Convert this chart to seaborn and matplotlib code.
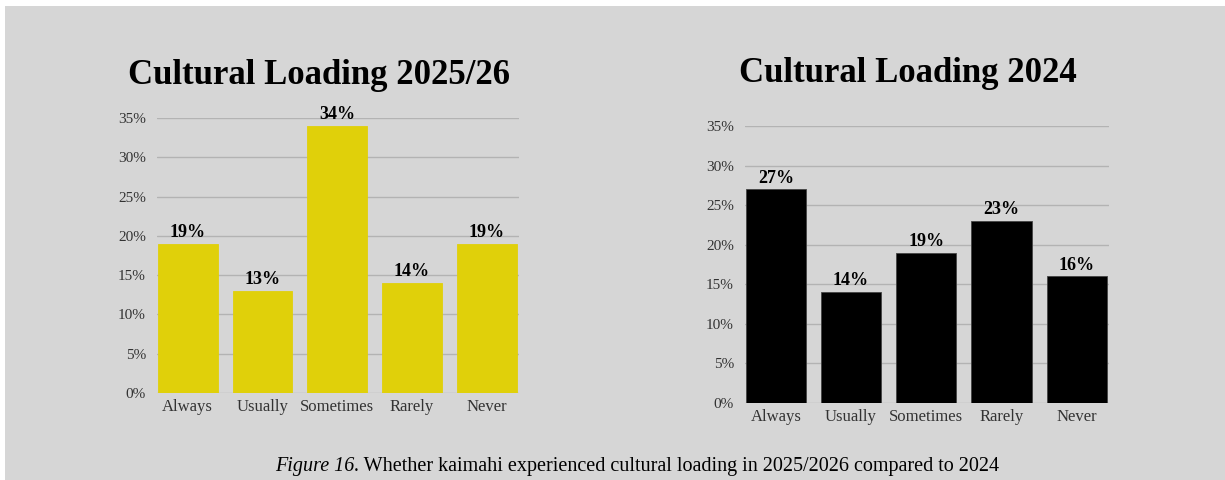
import matplotlib
matplotlib.use("Agg")
import matplotlib.pyplot as plt
import seaborn as sns
import pandas as pd
from matplotlib.patches import Rectangle

categories = ["Always", "Usually", "Sometimes", "Rarely", "Never"]
values_2025 = [19, 13, 34, 14, 19]
values_2024 = [27, 14, 19, 23, 16]
yticks = [0, 5, 10, 15, 20, 25, 30, 35]
title_left = "Cultural Loading 2025/26"
title_right = "Cultural Loading 2024"
caption_italic = "Figure 16."
caption_rest = " Whether kaimahi experienced cultural loading in 2025/2026 compared to 2024"

BG = "#d6d6d6"
YELLOW = "#e0d00a"
SERIF = ["Liberation Serif", "DejaVu Serif"]

sns.set_theme(style="white")
plt.rcParams["font.family"] = SERIF

fig = plt.figure(figsize=(12.25, 4.8), dpi=100)
fig.patch.set_facecolor("white")
fig.patches.append(Rectangle((5 / 1225, 0), 1 - 5 / 1225, 1 - 6 / 480,
                             transform=fig.transFigure, facecolor=BG,
                             edgecolor="none", zorder=-10))

ax1 = fig.add_axes([157 / 1225, 1 - 393 / 480, 362 / 1225, 275 / 480])
ax2 = fig.add_axes([745 / 1225, 1 - 403 / 480, 364 / 1225, 277 / 480])

df1 = pd.DataFrame({"cat": categories, "val": values_2025})
df2 = pd.DataFrame({"cat": categories, "val": values_2024})

for ax, df, col, ec in [(ax1, df1, YELLOW, YELLOW), (ax2, df2, "black", "#444444")]:
    ax.set_facecolor("none")
    sns.barplot(data=df, x="cat", y="val", color=col, width=0.8,
                saturation=1, ax=ax, zorder=3, edgecolor=ec, linewidth=0.6)
    ax.set_xlim(-0.41, 4.43)
    ax.set_ylim(0, 35)
    ax.set_yticks(yticks)
    ax.set_yticklabels([f"{t}%" for t in yticks])
    ax.yaxis.grid(True, color="#b3b3b3", linewidth=1, zorder=0)
    ax.set_axisbelow(True)
    for s in ax.spines.values():
        s.set_visible(False)
    ax.tick_params(axis="both", length=0, colors="#333333", labelsize=11)
    ax.tick_params(axis="y", pad=8)
    ax.tick_params(axis="x", pad=4)
    for lab in ax.get_xticklabels():
        lab.set_fontsize(12)
    ax.set_xlabel("")
    ax.set_ylabel("")
    ax.bar_label(ax.containers[0], labels=[f"{v}%" for v in df["val"]],
                 padding=2, fontsize=13, fontweight="bold", color="black",
                 clip_on=False)

fig.text(319 / 1225, 1 - 75 / 480, title_left, ha="center", va="center",
         fontsize=25, fontweight="bold", color="black")
fig.text(908 / 1225, 1 - 73 / 480, title_right, ha="center", va="center",
         fontsize=25, fontweight="bold", color="black")

# caption with mixed styles
fig.canvas.draw()
r = fig.canvas.get_renderer()
t1 = fig.text(0, 1 - 466 / 480, caption_italic, ha="left", va="center",
              fontsize=14.5, style="italic", color="black")
t2 = fig.text(0, 1 - 466 / 480, caption_rest, ha="left", va="center",
              fontsize=14.5, color="black")
w1 = t1.get_window_extent(r).width
w2 = t2.get_window_extent(r).width
start = 637 - (w1 + w2) / 2
t1.set_x(start / 1225)
t2.set_x((start + w1) / 1225)

fig.savefig("out.png", dpi=100, facecolor=fig.get_facecolor())
